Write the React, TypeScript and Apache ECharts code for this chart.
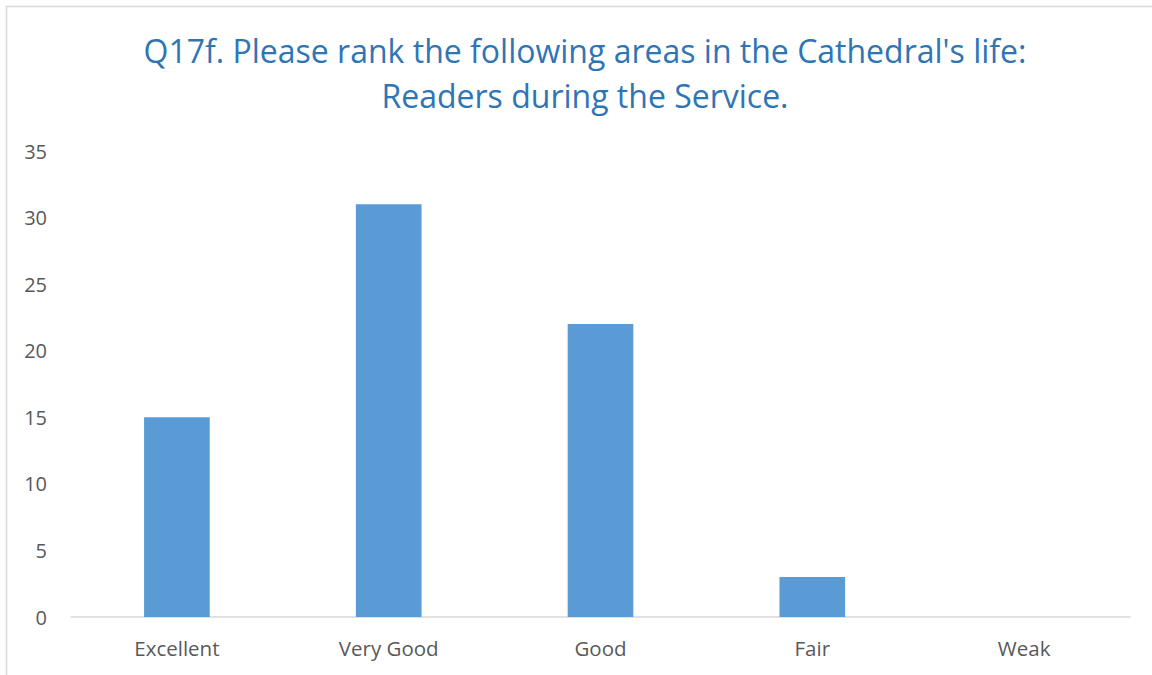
import React, { useEffect, useRef } from "react";
import * as echarts from "echarts";

const titleLines = [
  "Q17f. Please rank the following areas in the Cathedral's life:",
  "Readers during the Service.",
];
const categories = ["Excellent", "Very Good", "Good", "Fair", "Weak"];
const counts = [15, 31, 22, 3, 0];
const yMin = 0;
const yMax = 35;
const yStep = 5;

const FONT = "'Open Sans', 'Noto Sans', sans-serif";

export default function App() {
  const ref = useRef<HTMLDivElement>(null);
  useEffect(() => {
    document.body.style.margin = "0";
    const chart = echarts.init(ref.current!, null, { renderer: "svg" });
    chart.setOption({
      animation: false,
      backgroundColor: "#ffffff",
      title: {
        text: titleLines.join("\n"),
        left: 580,
        top: 23,
        textAlign: "center",
        textStyle: {
          color: "#2E75B6",
          fontFamily: FONT,
          fontWeight: "normal",
          fontSize: 32,
          lineHeight: 45,
        },
      },
      graphic: [
        {
          type: "rect",
          shape: { x: 6.5, y: 6.5, width: 1200, height: 700 },
          style: { fill: "none", stroke: "#D9D9D9", lineWidth: 1.5 },
          silent: true,
        },
      ],
      grid: { left: 71, right: 22, top: 151, bottom: 58, containLabel: false },
      xAxis: {
        type: "category",
        data: categories,
        axisLine: { show: true, lineStyle: { color: "#D9D9D9", width: 1.5 } },
        axisTick: { show: false },
        axisLabel: {
          color: "#595959",
          fontFamily: FONT,
          fontSize: 20.5,
          margin: 20,
        },
      },
      yAxis: {
        type: "value",
        min: yMin,
        max: yMax,
        interval: yStep,
        axisLine: { show: false },
        axisTick: { show: false },
        splitLine: { show: false },
        axisLabel: {
          color: "#595959",
          fontFamily: FONT,
          fontSize: 20,
          margin: 24,
        },
      },
      series: [
        {
          type: "bar",
          data: counts,
          barWidth: "31%",
          itemStyle: { color: "#5B9BD5" },
        },
      ],
    });
    return () => chart.dispose();
  }, []);
  return <div ref={ref} style={{ width: 1152, height: 675 }} />;
}
